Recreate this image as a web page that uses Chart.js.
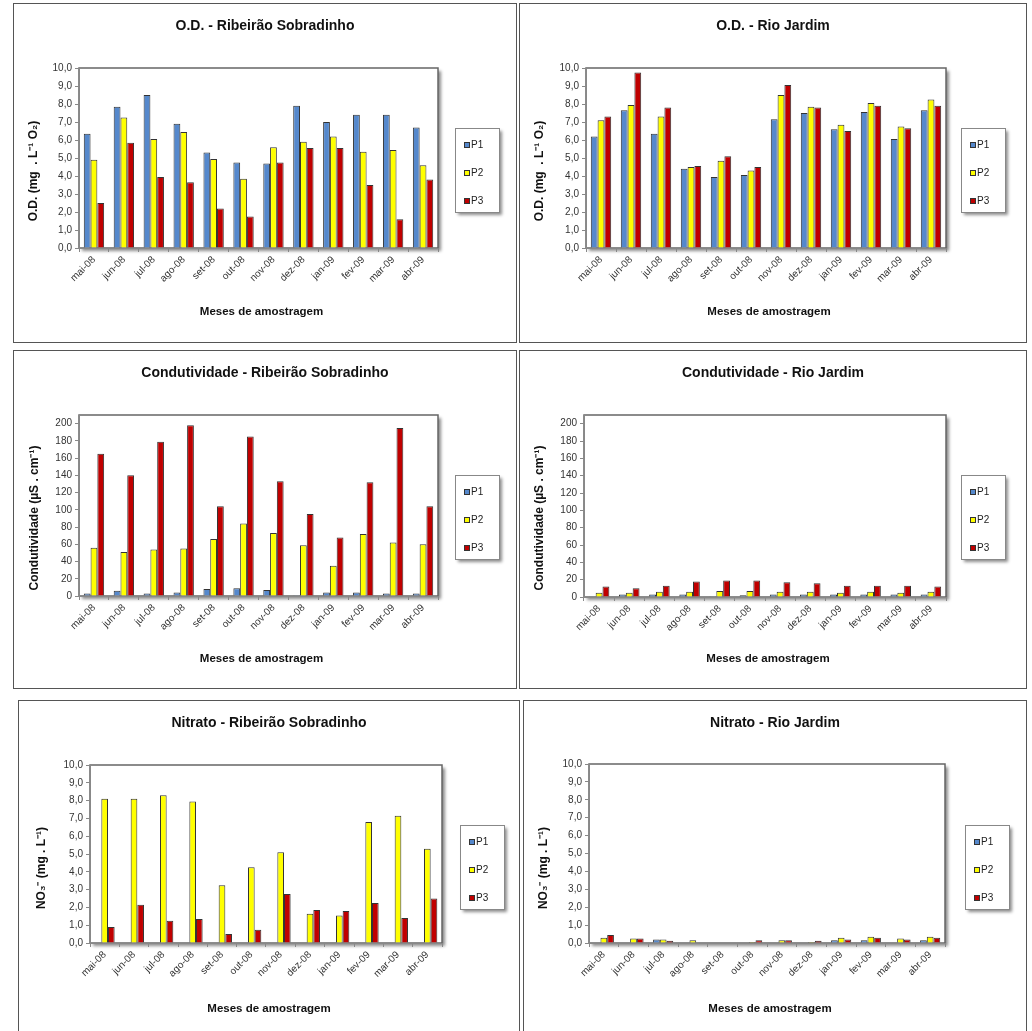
<!DOCTYPE html>
<html>
<head>
<meta charset="utf-8">
<script src="https://cdn.jsdelivr.net/npm/chart.js@4.4.0/dist/chart.umd.min.js"></script>
<style>
  body { margin: 0; background: #fff; width: 1032px; height: 1031px; position: relative; overflow: hidden; }
  .panel { position: absolute; border: 1px solid #555; box-sizing: border-box; background: #fff; }
  .panel canvas { position: absolute; left: 0; top: 0; }
</style>
</head>
<body>
<div class="panel" style="left:13px;top:3px;width:504px;height:340px"><canvas id="odSob" width="502" height="338"></canvas></div>
<div class="panel" style="left:519px;top:3px;width:508px;height:340px"><canvas id="odJar" width="506" height="338"></canvas></div>
<div class="panel" style="left:13px;top:350px;width:504px;height:339px"><canvas id="condSob" width="502" height="337"></canvas></div>
<div class="panel" style="left:519px;top:350px;width:508px;height:339px"><canvas id="condJar" width="506" height="337"></canvas></div>
<div class="panel" style="left:18px;top:700px;width:502px;height:340px"><canvas id="no3Sob" width="500" height="338"></canvas></div>
<div class="panel" style="left:523px;top:700px;width:504px;height:340px"><canvas id="no3Jar" width="502" height="338"></canvas></div>
<script>
// meses de amostragem
const months = ["mai-08", "jun-08", "jul-08", "ago-08", "set-08", "out-08",
                "nov-08", "dez-08", "jan-09", "fev-09", "mar-09", "abr-09"];
const pointNames = ["P1", "P2", "P3"];

// O.D. (mg/L O2)
const odSobP1 = [6.35, 7.85, 8.5, 6.9, 5.3, 4.75, 4.7, 7.9, 7.0, 7.4, 7.4, 6.7];
const odSobP2 = [4.9, 7.25, 6.05, 6.45, 4.95, 3.85, 5.6, 5.9, 6.2, 5.35, 5.45, 4.6];
const odSobP3 = [2.5, 5.85, 3.95, 3.65, 2.2, 1.75, 4.75, 5.55, 5.55, 3.5, 1.6, 3.8];
const odJarP1 = [6.2, 7.65, 6.35, 4.4, 3.95, 4.05, 7.15, 7.5, 6.6, 7.55, 6.05, 7.65];
const odJarP2 = [7.1, 7.95, 7.3, 4.5, 4.85, 4.3, 8.5, 7.85, 6.85, 8.05, 6.75, 8.25];
const odJarP3 = [7.3, 9.75, 7.8, 4.55, 5.1, 4.5, 9.05, 7.8, 6.5, 7.9, 6.65, 7.9];

// Condutividade (uS/cm)
const condSobP1 = [3, 6, 3, 4, 8, 9, 7, 1, 4, 4, 3, 3];
const condSobP2 = [56, 51, 54, 55, 66, 84, 73, 59, 35, 72, 62, 60];
const condSobP3 = [165, 140, 179, 198, 104, 185, 133, 95, 68, 132, 195, 104];
const condJarP1 = [1, 3, 3, 3, 1, 2, 3, 3, 3, 3, 3, 3];
const condJarP2 = [5, 5, 6, 6, 7, 7, 6, 6, 5, 6, 5, 6];
const condJarP3 = [12, 10, 13, 18, 19, 19, 17, 16, 13, 13, 13, 12];

// Nitrato (mg/L)
const no3SobP1 = [0, 0, 0, 0, 0, 0, 0, 0, 0, 0, 0, 0];
const no3SobP2 = [8.1, 8.1, 8.3, 7.95, 3.25, 4.25, 5.1, 1.65, 1.55, 6.8, 7.15, 5.3];
const no3SobP3 = [0.9, 2.15, 1.25, 1.35, 0.5, 0.75, 2.75, 1.85, 1.8, 2.25, 1.4, 2.5];
const no3JarP1 = [0, 0, 0.2, 0, 0, 0, 0, 0, 0.15, 0.15, 0, 0.15];
const no3JarP2 = [0.3, 0.25, 0.2, 0.15, 0, 0.05, 0.15, 0.05, 0.3, 0.35, 0.25, 0.35];
const no3JarP3 = [0.45, 0.25, 0.12, 0, 0, 0.15, 0.15, 0.12, 0.2, 0.3, 0.2, 0.3];

const colors = ["#5588cc", "#ffff00", "#c00000"];
const FONT = "'Liberation Sans', Arial, sans-serif";

// draws plot frame, legend box and the titles
const decor = {
  id: "decor",
  beforeDraw(chart, args, o) {
    const { ctx, chartArea: a } = chart;
    ctx.save();
    ctx.shadowColor = "rgba(0,0,0,0.45)";
    ctx.shadowBlur = 3;
    ctx.shadowOffsetX = 3;
    ctx.shadowOffsetY = 3;
    ctx.fillStyle = "#fff";
    ctx.fillRect(a.left, a.top, a.width, a.height);
    ctx.fillRect(o.legX, o.legY, 44, 84);
    ctx.restore();

    ctx.save();
    ctx.strokeStyle = "#666";
    ctx.lineWidth = 1.5;
    ctx.strokeRect(a.left, a.top, a.width, a.height);
    ctx.strokeStyle = "#888";
    ctx.lineWidth = 1;
    ctx.strokeRect(o.legX + 0.5, o.legY + 0.5, 44, 84);
    ctx.restore();
  },
  afterDraw(chart, args, o) {
    const { ctx, chartArea: a, width } = chart;
    ctx.save();
    ctx.fillStyle = "#111";
    ctx.textAlign = "center";
    ctx.textBaseline = "middle";
    ctx.font = "bold 14px " + FONT;
    ctx.fillText(o.title, width / 2, 22);
    ctx.font = "bold 11.5px " + FONT;
    ctx.fillText("Meses de amostragem", (a.left + a.right) / 2 + 3, 308);
    ctx.save();
    ctx.translate(o.yTitleX, 167);
    ctx.rotate(-Math.PI / 2);
    ctx.font = "bold 12px " + FONT;
    ctx.fillText(o.yTitle, 0, 0);
    ctx.restore();

    // legend
    ctx.textAlign = "left";
    ctx.font = "10px " + FONT;
    chart.data.datasets.forEach((ds, i) => {
      const y = o.legY + 17 + i * 28;
      ctx.fillStyle = ds.backgroundColor;
      ctx.fillRect(o.legX + 9, y - 3, 6, 6);
      ctx.strokeStyle = "#333";
      ctx.strokeRect(o.legX + 9.5, y - 2.5, 5, 5);
      ctx.fillStyle = "#222";
      ctx.fillText(ds.label, o.legX + 16, y);
    });
    ctx.restore();
  }
};

function makeChart(id, geo, title, yTitle, series, yMax, yStep, yLast, decimals) {
  const canvas = document.getElementById(id);
  const W = canvas.width, H = canvas.height;
  const padLeft = 8;
  const xH = 60;
  return new Chart(canvas.getContext("2d"), {
    type: "bar",
    data: {
      labels: months,
      datasets: series.map((vals, i) => ({
        label: pointNames[i],
        data: vals,
        backgroundColor: colors[i],
        borderColor: "#333",
        borderWidth: 1,
        categoryPercentage: 0.68,
        barPercentage: 1.0
      }))
    },
    options: {
      responsive: false,
      animation: false,
      devicePixelRatio: 1,
      layout: {
        padding: { left: padLeft, right: W - geo.R, top: geo.T, bottom: H - geo.B - xH }
      },
      plugins: {
        legend: { display: false },
        tooltip: { enabled: false },
        decor: { title, yTitle, yTitleX: geo.yx, legX: 441, legY: 124 }
      },
      scales: {
        x: {
          grid: { drawOnChartArea: false, drawTicks: true, tickLength: 4, color: "#888", offset: true },
          border: { color: "#888" },
          ticks: {
            autoSkip: false, minRotation: 45, maxRotation: 45, padding: 2,
            color: "#333", font: { family: FONT, size: 10 }
          },
          afterFit: s => { s.height = xH; }
        },
        y: {
          min: 0,
          max: yMax,
          grid: { drawOnChartArea: false, drawTicks: true, tickLength: 4, color: "#888" },
          border: { color: "#888" },
          ticks: {
            stepSize: yStep, includeBounds: false, padding: 3, color: "#333",
            font: { family: FONT, size: 10 },
            callback: v => decimals ? v.toFixed(1).replace(".", ",") : String(v)
          },
          afterBuildTicks: s => { s.ticks = s.ticks.filter(t => t.value <= yLast + 1e-9); },
          afterFit: s => { s.width = geo.L - padLeft; }
        }
      }
    },
    plugins: [decor]
  });
}

makeChart("odSob", { L: 65, R: 424, T: 64, B: 244, yx: 20 }, "O.D. - Ribeirão Sobradinho",
  "O.D. (mg  . L⁻¹ O₂)", [odSobP1, odSobP2, odSobP3], 10, 1, 10, true);
makeChart("odJar", { L: 66, R: 426, T: 64, B: 244, yx: 20 }, "O.D. - Rio Jardim",
  "O.D. (mg  . L⁻¹ O₂)", [odJarP1, odJarP2, odJarP3], 10, 1, 10, true);
makeChart("condSob", { L: 65, R: 424, T: 64, B: 245, yx: 21 }, "Condutividade - Ribeirão Sobradinho",
  "Condutividade (µS . cm⁻¹)", [condSobP1, condSobP2, condSobP3], 210, 20, 200, false);
makeChart("condJar", { L: 64, R: 426, T: 64, B: 246, yx: 20 }, "Condutividade - Rio Jardim",
  "Condutividade (µS . cm⁻¹)", [condJarP1, condJarP2, condJarP3], 210, 20, 200, false);
makeChart("no3Sob", { L: 71, R: 423, T: 64, B: 242, yx: 23 }, "Nitrato - Ribeirão Sobradinho",
  "NO₃⁻ (mg . L⁻¹)", [no3SobP1, no3SobP2, no3SobP3], 10, 1, 10, true);
makeChart("no3Jar", { L: 65, R: 421, T: 63, B: 242, yx: 20 }, "Nitrato - Rio Jardim",
  "NO₃⁻ (mg . L⁻¹)", [no3JarP1, no3JarP2, no3JarP3], 10, 1, 10, true);
</script>
</body>
</html>
